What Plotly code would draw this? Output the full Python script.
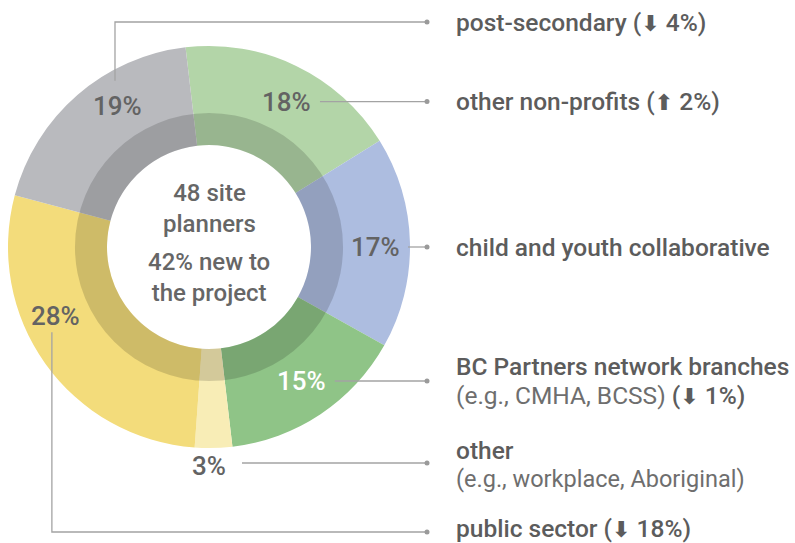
import math
import plotly.graph_objects as go

# ---- data ----
categories = ["other non-profits", "child and youth collaborative",
              "BC Partners network branches", "other", "public sector", "post-secondary"]
values = [18, 17, 15, 3, 28, 19]
changes = ["⬆ 2%", None, "⬇ 1%", None, "⬇ 18%", "⬇ 4%"]
details = [None, None, "(e.g., CMHA, BCSS)", "(e.g., workplace, Aboriginal)", None, None]
center_lines = ["48 site<br>planners", "42% new to<br>the project"]

# ---- style ----
colors = ["#b3d5a8", "#adbde0", "#8fc487", "#f8edb6", "#f3dc7b", "#b9babe"]
pct_colors = ["#636363", "#636363", "#ffffff", "#636363", "#636363", "#636363"]
detail_sizes = [24, 24, 24.5, 23.5, 24, 24]
W, H = 795, 543
CX, CY, R = 209, 247, 201
HOLE_R, BAND_R = 102, 134
ROT = -6.7
lab_off = [2.5, 1.3, -1.0, 1.3, 11.2, 8.1]      # angle tweak of percentage labels
lab_rad = [165, 166, 163, 219, 168, 168]
DOT_X, TEXT_X = 427, 454
TOP_Y, BOT_Y = 22, 532
FONT = "Roboto"
LINE = "#a3a3a3"
TXT = "#5c5c5c"
ARROW = "<span style=\"font-family:'DejaVu Sans';font-weight:700;font-size:22px\">{}</span>"


def px(x):
    return x / W


def py(y):
    return 1 - y / H


fig = go.Figure()
fig.add_trace(go.Pie(
    values=values, labels=categories, sort=False, direction="clockwise",
    rotation=ROT, hole=HOLE_R / R, marker=dict(colors=colors, line=dict(width=0)),
    textinfo="none", hoverinfo="skip", showlegend=False,
    domain=dict(x=[px(CX - R), px(CX + R)], y=[py(CY + R), py(CY - R)])))
fig.add_trace(go.Pie(
    values=[1], labels=["band"], sort=False, hole=HOLE_R / BAND_R,
    marker=dict(colors=["rgba(0,0,0,0.15)"], line=dict(width=0)),
    textinfo="none", hoverinfo="skip", showlegend=False,
    domain=dict(x=[px(CX - BAND_R), px(CX + BAND_R)], y=[py(CY + BAND_R), py(CY - BAND_R)])))

annotations = []
shapes = []
total = sum(values)
cum = 0
lab_pos = []
for i, v in enumerate(values):
    mid = ROT + 360 * (cum + v / 2) / total + lab_off[i]
    cum += v
    a = math.radians(mid)
    lx = CX + lab_rad[i] * math.sin(a)
    ly = CY - lab_rad[i] * math.cos(a)
    lab_pos.append((lx, ly))
    annotations.append(dict(
        x=px(lx), y=py(ly), xref="paper", yref="paper", showarrow=False,
        text=f"{v}%", xanchor="center", yanchor="middle",
        font=dict(family=FONT, size=26, color=pct_colors[i], weight=500)))


def ann(x, y, text, size, weight, color=TXT):
    annotations.append(dict(
        x=px(x), y=py(y), xref="paper", yref="paper", showarrow=False,
        text=text, xanchor="left", yanchor="middle", align="left",
        font=dict(family=FONT, size=size, color=color, weight=weight)))


for i, (lx, ly) in enumerate(lab_pos):
    if categories[i] == "post-secondary":
        y = TOP_Y
        pts = [(lx - 3, ly - 25), (lx - 3, y), (DOT_X, y)]
    elif categories[i] == "public sector":
        y = BOT_Y
        pts = [(lx - 4, ly + 16), (lx - 4, y), (DOT_X, y)]
    else:
        y = ly - (3 if categories[i] == "other" else 0)
        pts = [(lx + 33, y), (DOT_X, y)]
    path = "M " + " L ".join(f"{px(a)},{py(b)}" for a, b in pts)
    shapes.append(dict(type="path", path=path, xref="paper", yref="paper",
                       line=dict(color=LINE, width=1.3)))
    shapes.append(dict(type="circle", xref="paper", yref="paper",
                       x0=px(DOT_X - 2.5), x1=px(DOT_X + 2.5), y0=py(y + 2.5), y1=py(y - 2.5),
                       fillcolor="#9a9a9a", line=dict(width=0)))
    chg = ""
    if changes[i]:
        arrow, num = changes[i].split(" ")
        chg = f" ({ARROW.format(arrow)} {num})"
    if details[i]:
        yy = y + (2 if categories[i] == "other" else 0)
        ann(TEXT_X, yy - 15, categories[i], 24.5, 500)
        dtext = details[i]
        if chg:
            dtext += f"<span style='font-weight:500;font-size:24.5px;fill:{TXT}'>{chg}</span>"
        ann(TEXT_X, yy + 14, dtext, detail_sizes[i], 400, "#6e6e6e")
    else:
        ann(TEXT_X, y - (4 if categories[i] == "public sector" else 0), categories[i] + chg, 24.5, 500)

annotations.append(dict(x=px(CX), y=py(208), xref="paper", yref="paper", showarrow=False,
                        text=center_lines[0], xanchor="center", yanchor="middle",
                        font=dict(family=FONT, size=24, color="#666666", weight=500)))
annotations.append(dict(x=px(CX), y=py(277.5), xref="paper", yref="paper", showarrow=False,
                        text=center_lines[1], xanchor="center", yanchor="middle",
                        font=dict(family=FONT, size=24, color="#666666", weight=500)))

fig.update_layout(width=W, height=H, margin=dict(l=0, r=0, t=0, b=0),
                  paper_bgcolor="white", plot_bgcolor="white",
                  annotations=annotations, shapes=shapes)
fig.write_html("out.html", config={"displayModeBar": False},
               post_script="document.body.style.margin='0';")
